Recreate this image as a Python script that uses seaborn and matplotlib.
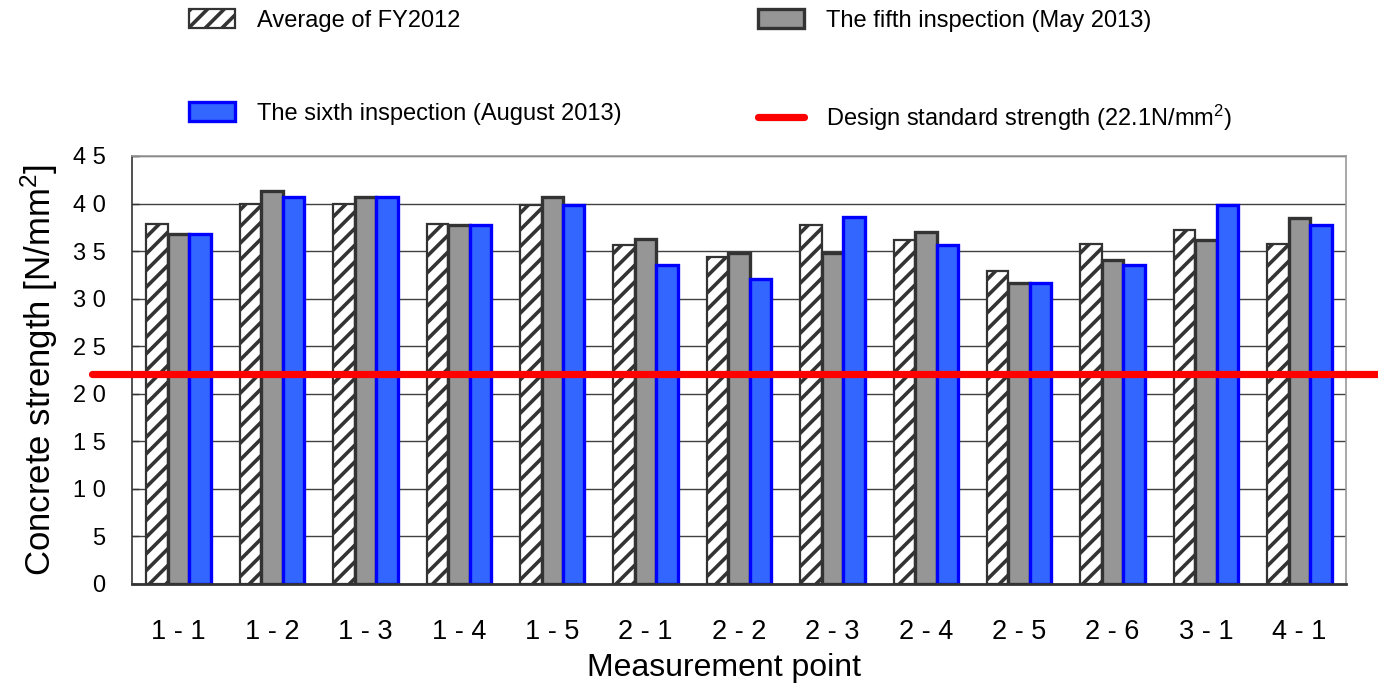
import matplotlib
matplotlib.use("Agg")
import matplotlib.pyplot as plt
from matplotlib.patches import Patch
from matplotlib.lines import Line2D
import numpy as np
import pandas as pd
import seaborn as sns

# values
points = ["1-1", "1-2", "1-3", "1-4", "1-5", "2-1", "2-2",
          "2-3", "2-4", "2-5", "2-6", "3-1", "4-1"]
avg_fy2012 = [37.9, 40.0, 40.0, 37.9, 39.8, 35.6, 34.4, 37.7, 36.2, 32.9, 35.7, 37.2, 35.7]
fifth_may2013 = [36.8, 41.3, 40.7, 37.7, 40.7, 36.3, 34.8, 34.8, 37.0, 31.6, 34.1, 36.2, 38.5]
sixth_aug2013 = [36.8, 40.7, 40.7, 37.7, 39.9, 33.5, 32.1, 38.6, 35.6, 31.6, 33.5, 39.9, 37.7]
design_strength = 22.1

series = ["Average of FY2012", "The fifth inspection (May 2013)",
          "The sixth inspection (August 2013)"]
design_label = "Design standard strength (22.1N/mm$^2$)"
y_ticks = [0, 5, 10, 15, 20, 25, 30, 35, 40, 45]

df = pd.DataFrame({
    "point": points * 3,
    "strength": avg_fy2012 + fifth_may2013 + sixth_aug2013,
    "series": [s for s in series for _ in points],
})

sns.set_style("white")
plt.rcParams["font.family"] = ["Liberation Sans", "DejaVu Sans"]
plt.rcParams["mathtext.fontset"] = "custom"
plt.rcParams["mathtext.rm"] = "Liberation Sans"
plt.rcParams["mathtext.it"] = "Liberation Sans"
plt.rcParams["hatch.linewidth"] = 2.6
plt.rcParams["hatch.color"] = "#262626"
for key in ["text.color", "axes.labelcolor", "xtick.labelcolor", "ytick.labelcolor"]:
    plt.rcParams[key] = "black"

fig = plt.figure(figsize=(13.78, 6.83), dpi=100)
ax = fig.add_axes([0.0958, 0.145, 0.881, 0.6266])

sns.barplot(data=df, x="point", y="strength", hue="series", hue_order=series,
            order=points, errorbar=None, width=0.69, legend=False, ax=ax)

styles = [
    dict(facecolor="white", edgecolor="#333333", hatch="//", lw=1.6),
    dict(facecolor="#969696", edgecolor="#333333", hatch=None, lw=2.4),
    dict(facecolor="#3366ff", edgecolor="#0000ff", hatch=None, lw=2.4),
]
for cont, st in zip(ax.containers, styles):
    for bar in cont:
        bar.set_facecolor(st["facecolor"])
        bar.set_edgecolor(st["edgecolor"])
        bar.set_linewidth(st["lw"])
        if st["hatch"]:
            bar.set_hatch(st["hatch"])

ax.axhline(design_strength, xmin=-0.033, xmax=1.03, color="#ff0000", lw=5.2,
           clip_on=False, zorder=5)

ax.set_ylim(0, 45)
ax.set_yticks(y_ticks)
ax.set_yticklabels([" ".join(str(v)) for v in y_ticks], fontsize=17)
ax.set_xticks(range(len(points)))
ax.set_xticklabels([p.replace("-", " - ") for p in points], fontsize=19.5)
ax.set_xticks(np.arange(1, len(points)) - 0.5, minor=True)
ax.tick_params(axis="x", which="major", length=0, pad=25)
ax.tick_params(axis="x", which="minor", direction="in", length=8, width=1, color="#333333")
ax.tick_params(axis="y", direction="in", length=5, width=1, color="#333333", pad=19, left=True)

ax.yaxis.grid(True, color="#404040", lw=1)
ax.set_axisbelow(True)
for side in ["top", "right"]:
    ax.spines[side].set_color("#999999")
    ax.spines[side].set_linewidth(1.2)
ax.spines["left"].set_color("#333333")
ax.spines["left"].set_linewidth(1.2)
ax.spines["bottom"].set_color("#333333")
ax.spines["bottom"].set_linewidth(2)

ax.set_xlabel("Measurement point", fontsize=23, labelpad=6)
ax.xaxis.label.set_x(0.488)
ax.set_ylabel("Concrete strength [N/mm$^2$]", fontsize=25, labelpad=9)

handles = [
    Patch(facecolor="white", edgecolor="#333333", hatch="//", lw=1.6),
    Patch(facecolor="#3366ff", edgecolor="#0000ff", lw=2.4),
    Patch(facecolor="#969696", edgecolor="#333333", lw=2.4),
    Line2D([], [], color="#ff0000", lw=5.2),
]
labels = [series[0], series[2], series[1], design_label]
fig.legend(handles, labels, ncol=2, loc="upper left",
           bbox_to_anchor=(0.122, 1.018), frameon=False, fontsize=17,
           handlelength=1.95, handleheight=0.85, handletextpad=0.9,
           labelspacing=3.0, columnspacing=5.8)

fig.savefig("out.png", dpi=100)
